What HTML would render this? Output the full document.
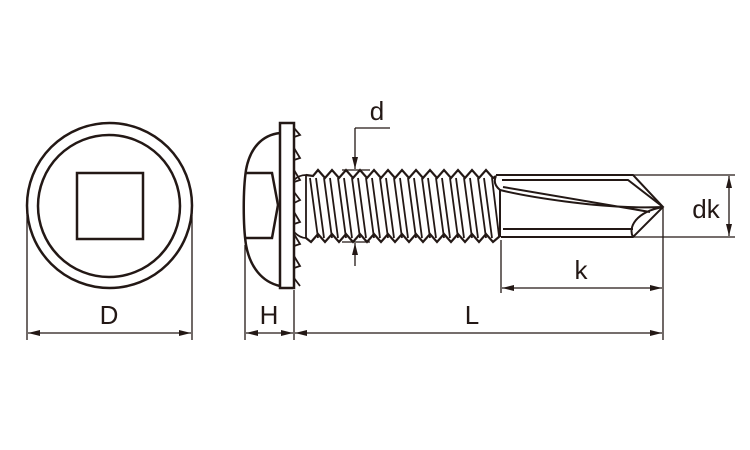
<!DOCTYPE html>
<html><head><style>body{margin:0;background:#fff}svg{display:block}</style></head><body>
<svg width="750" height="450" viewBox="0 0 750 450" xmlns="http://www.w3.org/2000/svg">
<defs>
<marker id="a" viewBox="0 0 12 6" refX="12" refY="3" markerWidth="12" markerHeight="6" markerUnits="userSpaceOnUse" orient="auto-start-reverse"><path d="M0,0L12,3L0,6z" fill="#231815"/></marker>
</defs>
<g fill="none" stroke="#231815" stroke-width="2.5">
<circle cx="109.5" cy="205.5" r="82.5"/>
<circle cx="109" cy="206" r="71"/>
<rect x="77" y="173" width="66" height="66"/>
<path d="M280,133 C262,135 250,148 246,170 C243,190 243,225 246,245 C250,267 262,282 280,286"/>
<path d="M246,173 L272,173 L278,205 L272,238 L246,238"/>
<rect x="280" y="123" width="14" height="165"/>
<path d="M294,128 L300,135 L294,137 M294,148 L300,158 L294,160 M294,170 L300,180 L294,182 M294,192 L300,200 L294,203 M294,212 L300,222 L294,224 M294,234 L300,244 L294,246 M294,256 L300,266 L294,268 M294,278 L300,286" stroke-width="1.8"/>
<path d="M294,180 C298,176 302,175 306,175 L306,238 C302,238 298,236 294,232" stroke-width="1.8"/>
<path d="M306,175 L313,176 L318,170 L325,178 L332,170 L339,178 L346,170 L353,178 L360,170 L367,178 L374,170 L381,178 L388,170 L395,178 L402,170 L409,178 L416,170 L423,178 L430,170 L437,178 L444,170 L451,178 L458,170 L465,178 L472,170 L479,178 L486,170 L493,178 L496,176" stroke-width="2.2"/>
<path d="M306,238 L311,242 L318,234 L325,242 L332,234 L339,242 L346,234 L353,242 L360,234 L367,242 L374,234 L381,242 L388,234 L395,242 L402,234 L409,242 L416,234 L423,242 L430,234 L437,242 L444,234 L451,242 L458,234 L465,242 L472,234 L479,242 L486,234 L493,242 L500,236" stroke-width="2.2"/>
<g stroke-width="1.8">
<path d="M310,178 L318,238 M324,178 L332,238 M338,178 L346,238 M352,178 L360,238 M366,178 L374,238 M380,178 L388,238 M394,178 L402,238 M408,178 L416,238 M422,178 L430,238 M436,178 L444,238 M450,178 L458,238 M464,178 L472,238 M478,178 L486,238 M492,178 L499,236"/>
<path d="M316,178 L324,238 M330,178 L338,238 M344,178 L352,238 M358,178 L366,238 M372,178 L380,238 M386,178 L394,238 M400,178 L408,238 M414,178 L422,238 M428,178 L436,238 M442,178 L450,238 M456,178 L464,238 M470,178 L478,238 M484,178 L492,238"/>
</g>
<path d="M496,176 C494,180 494,185 500,190 L500,237 M496,175 L633,175 L663,207 L633,237 L501,237" stroke-width="2"/>
<path d="M502,180 L628,180 L663,207 M503,187 L650,212 M500,190 C520,195 600,210 663,207 M503,229 L633,229 M633,237 C628,228 635,212 663,207" stroke-width="2"/>
</g>
<g stroke="#231815" stroke-width="1.3" fill="none">
<line x1="27" y1="215" x2="27" y2="340"/><line x1="192" y1="215" x2="192" y2="340"/>
<line x1="28" y1="333" x2="191" y2="333" marker-start="url(#a)" marker-end="url(#a)"/>
<line x1="245" y1="245" x2="245" y2="340"/><line x1="294" y1="290" x2="294" y2="340"/>
<line x1="246" y1="333" x2="293" y2="333" marker-start="url(#a)" marker-end="url(#a)"/>
<line x1="295" y1="333" x2="662" y2="333" marker-start="url(#a)" marker-end="url(#a)"/>
<line x1="501" y1="240" x2="501" y2="293"/><line x1="663" y1="208" x2="663" y2="340"/>
<line x1="502" y1="288" x2="662" y2="288" marker-start="url(#a)" marker-end="url(#a)"/>
<line x1="633" y1="175" x2="735" y2="175"/><line x1="633" y1="237" x2="735" y2="237"/>
<line x1="729" y1="176" x2="729" y2="236" marker-start="url(#a)" marker-end="url(#a)"/>
<line x1="355" y1="128" x2="390" y2="128"/>
<line x1="355" y1="128" x2="355" y2="169" marker-end="url(#a)"/>
<line x1="355" y1="266" x2="355" y2="243" marker-end="url(#a)"/>
<line x1="342" y1="170" x2="370" y2="170"/><line x1="342" y1="242" x2="370" y2="242"/>
</g>
<g font-family="Liberation Sans, sans-serif" font-size="26" fill="#231815" text-anchor="middle">
<text x="109" y="324">D</text>
<text x="269" y="324">H</text>
<text x="472" y="324">L</text>
<text x="581" y="279">k</text>
<text x="706" y="218">dk</text>
<text x="377" y="120">d</text>
</g>
</svg>
</body></html>
